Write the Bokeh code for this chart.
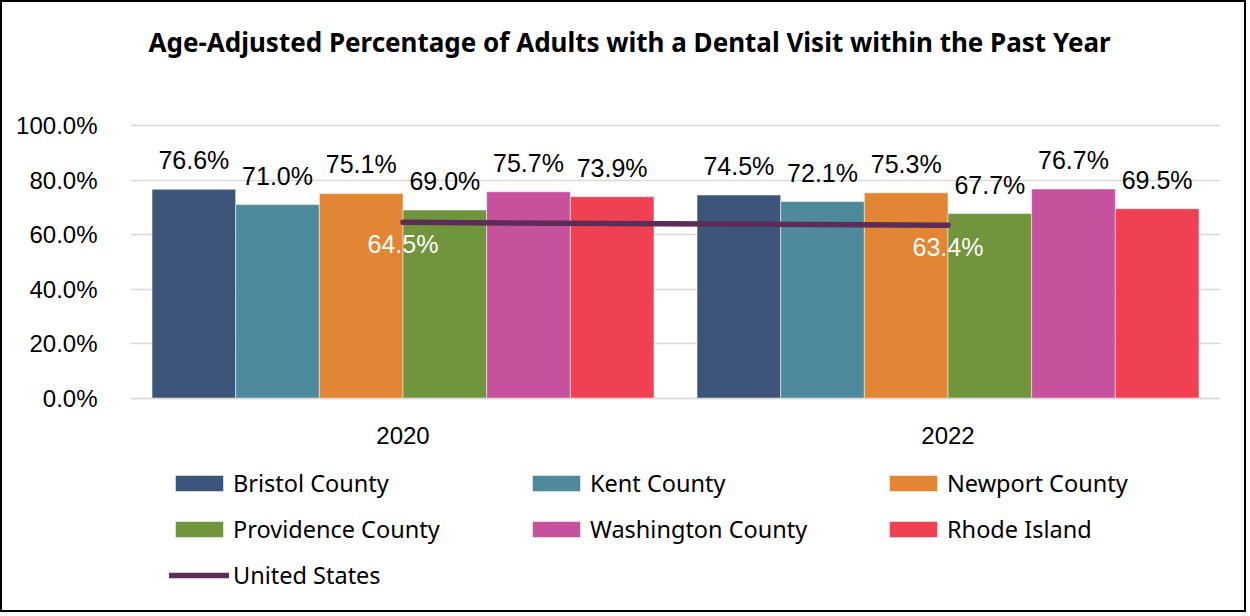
from bokeh.plotting import figure
from bokeh.models import (ColumnDataSource, FactorRange, Range1d, Legend, LegendItem,
                          Title, CustomJSTickFormatter)
from bokeh.transform import dodge
from bokeh.core.properties import value
from bokeh.embed import file_html
from bokeh.resources import INLINE

years = ["2020", "2022"]
series = ["Bristol County", "Kent County", "Newport County",
          "Providence County", "Washington County", "Rhode Island"]
bristol = [76.6, 74.5]
kent = [71.0, 72.1]
newport = [75.1, 75.3]
providence = [69.0, 67.7]
washington = [75.7, 76.7]
rhode_island = [73.9, 69.5]
united_states = [64.5, 63.4]
y_ticks = [0, 20, 40, 60, 80, 100]

colors = ["#3D5578", "#4F8A9C", "#E28534", "#70953C", "#C6519D", "#F04152"]
us_color = "#5B2D58"
values = [bristol, kent, newport, providence, washington, rhode_island]

W, H = 1246, 612
p = figure(width=W, height=H, x_range=FactorRange(*years, range_padding=0),
           y_range=Range1d(-75.5, 104), output_backend="svg", toolbar_location=None,
           min_border_left=128, min_border_right=28, min_border_top=112,
           min_border_bottom=10)
p.styles = {"border": "2px solid black"}
p.outline_line_color = None
p.background_fill_color = "white"

data = {"year": years}
for i, s in enumerate(series):
    data[f"v{i}"] = values[i]
    data[f"t{i}"] = [f"{v:.1f}%" for v in values[i]]
src = ColumnDataSource(data)

bw = 0.1535
renderers = []
for i, s in enumerate(series):
    off = (i - 2.5) * bw
    r = p.vbar(x=dodge("year", off, range=p.x_range), top=f"v{i}", width=bw,
               source=src, fill_color=colors[i], line_color="white", line_width=0.5)
    renderers.append(r)
    p.text(x=dodge("year", off, range=p.x_range), y=f"v{i}", text=f"t{i}", source=src,
           text_align="center", text_baseline="alphabetic", y_offset=-29,
           text_font=value("Liberation Sans"), text_font_size="25px", text_color="black")

us_src = ColumnDataSource({"year": years, "v": united_states,
                           "t": [f"{v:.1f}%" for v in united_states]})
lr = p.line(x="year", y="v", source=us_src, line_color=us_color, line_width=5.5,
            line_cap="round")
p.text(x="year", y="v", text="t", source=us_src, text_align="center",
       text_baseline="alphabetic", y_offset=22, text_font=value("Liberation Sans"),
       text_font_size="25px", text_color="white")

# axes
p.xaxis.fixed_location = 0
p.xaxis.axis_line_color = "#D9D9D9"
p.xaxis.axis_line_width = 1.5
p.xaxis.major_tick_line_color = None
p.xaxis.minor_tick_line_color = None
p.xaxis.major_label_standoff = 23
p.xaxis.major_label_text_font = "Liberation Sans"
p.xaxis.major_label_text_font_size = "24px"
p.xaxis.major_label_text_color = "black"

p.yaxis.ticker = y_ticks
p.yaxis.formatter = CustomJSTickFormatter(code="return tick.toFixed(1) + '%'")
p.yaxis.axis_line_color = None
p.yaxis.major_tick_line_color = None
p.yaxis.minor_tick_line_color = None
p.yaxis.major_label_standoff = 27
p.yaxis.major_label_text_font = "Liberation Sans"
p.yaxis.major_label_text_font_size = "24px"
p.yaxis.major_label_text_color = "black"

p.xgrid.grid_line_color = None
p.ygrid.grid_line_color = "#D9D9D9"
p.ygrid.grid_line_width = 1.5

# spacer between title and plot area
p.add_layout(Title(text=" ", text_font_size="1px", standoff=47), "above")
p.title = Title(text="Age-Adjusted Percentage of Adults with a Dental Visit within the Past Year",
                align="left", offset=18, text_font="Noto Sans", text_font_style="bold",
                text_font_size="26px", text_color="black", standoff=10)

items = [LegendItem(label=s, renderers=[renderers[i]]) for i, s in enumerate(series)]
items.append(LegendItem(label="United States", renderers=[lr]))
legend = Legend(items=items, orientation="horizontal", ncols=3,
                location=(39, 13), padding=0, margin=0, spacing=14,
                glyph_width=60, glyph_height=20, label_standoff=4, label_width=279,
                label_height=30, label_text_font="Noto Sans", label_text_font_size="23.5px",
                label_text_color="black", border_line_color=None,
                background_fill_alpha=0)
p.add_layout(legend, "center")

open("out.html", "w").write(file_html(p, INLINE))
